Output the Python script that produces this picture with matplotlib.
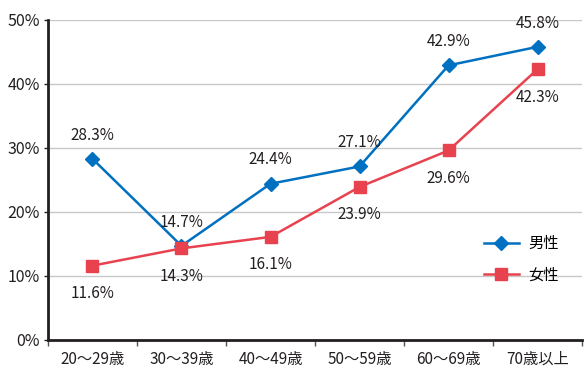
import matplotlib
matplotlib.use('Agg')
import matplotlib.pyplot as plt
from matplotlib.ticker import FixedLocator, FuncFormatter

plt.rcParams['font.family'] = ['Noto Sans CJK JP', 'DejaVu Sans']

categories = ['20～29歳', '30～39歳', '40～49歳', '50～59歳', '60～69歳', '70歳以上']
male = [28.3, 14.7, 24.4, 27.1, 42.9, 45.8]
female = [11.6, 14.3, 16.1, 23.9, 29.6, 42.3]
y_ticks = [0, 10, 20, 30, 40, 50]

blue = '#0070c0'
red = '#e8424f'

fig = plt.figure(figsize=(5.85, 3.76), dpi=100)
ax = fig.add_axes([0.082, 0.096, 0.913, 0.851])

x = list(range(len(categories)))
ax.plot(x, male, color=blue, lw=1.8, marker='D', ms=7.5, label='男性', zorder=3)
ax.plot(x, female, color=red, lw=1.8, marker='s', ms=8, label='女性', zorder=3)

# data labels: male above, female below
for i, v in enumerate(male):
    ax.annotate(f'{v}%', (i, v), xytext=(0, 11), textcoords='offset points',
                ha='center', va='bottom', fontsize=11, color='#231f20')
for i, v in enumerate(female):
    ax.annotate(f'{v}%', (i, v), xytext=(0, -14), textcoords='offset points',
                ha='center', va='top', fontsize=11, color='#231f20')

ax.set_xlim(-0.5, len(categories) - 0.5)
ax.set_ylim(0, 50)
ax.set_yticks(y_ticks)
ax.yaxis.set_major_formatter(FuncFormatter(lambda v, p: f'{int(v)}%'))
ax.set_xticks(x)
ax.set_xticklabels(categories)
ax.xaxis.set_minor_locator(FixedLocator([i + 0.5 for i in range(-1, len(categories))]))
ax.tick_params(axis='x', which='major', length=0, pad=8, labelsize=11, colors='#231f20')
ax.tick_params(axis='x', which='minor', length=4, width=1, direction='out', color='#555555')
ax.tick_params(axis='y', length=3, width=1, pad=3, labelsize=11.5, colors='#231f20')

ax.grid(axis='y', color='#c8c8c8', lw=1)
ax.set_axisbelow(True)
for s in ['top', 'right']:
    ax.spines[s].set_visible(False)
ax.spines['left'].set_linewidth(2)
ax.spines['bottom'].set_linewidth(2)
ax.spines['left'].set_color('#231f20')
ax.spines['bottom'].set_color('#231f20')

ax.legend(loc='upper left', bbox_to_anchor=(0.79, 0.37), frameon=False, fontsize=11,
          handlelength=2.3, labelspacing=0.95, handletextpad=0.6)

fig.savefig('out.png', dpi=100)
